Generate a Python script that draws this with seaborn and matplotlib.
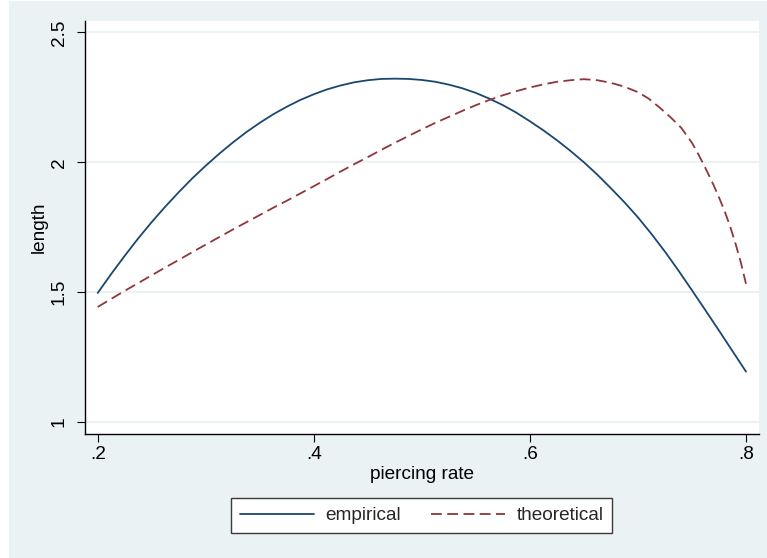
import numpy as np
import pandas as pd
import matplotlib
matplotlib.use("Agg")
import matplotlib.pyplot as plt
import seaborn as sns
from matplotlib.patches import Rectangle

# values
emp_x = [0.2000, 0.2125, 0.2250, 0.2375, 0.2500, 0.2625, 0.2750, 0.2875, 0.3000,
         0.3125, 0.3250, 0.3375, 0.3500, 0.3625, 0.3750, 0.3875, 0.4000, 0.4125,
         0.4250, 0.4375, 0.4500, 0.4625, 0.4750, 0.4875, 0.5000, 0.5125, 0.5250,
         0.5375, 0.5500, 0.5625, 0.5750, 0.5875, 0.6000, 0.6125, 0.6250, 0.6375,
         0.6500, 0.6625, 0.6750, 0.6875, 0.7000, 0.7125, 0.7250, 0.7375, 0.7500,
         0.7625, 0.7750, 0.7875, 0.8000]
emp_y = [1.497, 1.570, 1.640, 1.707, 1.770, 1.829, 1.885, 1.938, 1.987,
         2.033, 2.076, 2.116, 2.152, 2.185, 2.214, 2.240, 2.262, 2.281,
         2.296, 2.308, 2.316, 2.321, 2.322, 2.321, 2.317, 2.310, 2.299,
         2.285, 2.267, 2.245, 2.220, 2.191, 2.158, 2.123, 2.085, 2.044,
         2.000, 1.952, 1.900, 1.846, 1.788, 1.724, 1.656, 1.583, 1.507,
         1.430, 1.352, 1.273, 1.194]

theo_x = [0.2000, 0.2125, 0.2250, 0.2375, 0.2500, 0.2625, 0.2750, 0.2875, 0.3000,
          0.3125, 0.3250, 0.3375, 0.3500, 0.3625, 0.3750, 0.3875, 0.4000, 0.4125,
          0.4250, 0.4375, 0.4500, 0.4625, 0.4750, 0.4875, 0.5000, 0.5125, 0.5250,
          0.5375, 0.5500, 0.5625, 0.5750, 0.5875, 0.6000, 0.6125, 0.6250, 0.6375,
          0.6500, 0.6625, 0.6750, 0.6875, 0.7000, 0.7100, 0.7200, 0.7300, 0.7400,
          0.7500, 0.7550, 0.7600, 0.7650, 0.7700, 0.7750, 0.7800, 0.7850, 0.7900,
          0.7950, 0.8000]
theo_y = [1.443, 1.474, 1.505, 1.535, 1.565, 1.595, 1.624, 1.654, 1.683,
          1.712, 1.741, 1.769, 1.797, 1.825, 1.852, 1.880, 1.908, 1.936,
          1.965, 1.993, 2.020, 2.048, 2.075, 2.101, 2.127, 2.152, 2.175,
          2.198, 2.220, 2.240, 2.258, 2.274, 2.288, 2.300, 2.310, 2.316,
          2.320, 2.316, 2.306, 2.291, 2.270, 2.245, 2.211, 2.174, 2.133,
          2.075, 2.038, 1.998, 1.956, 1.912, 1.865, 1.814, 1.757, 1.691,
          1.618, 1.532]

x_ticks = [0.2, 0.4, 0.6, 0.8]
x_tick_labels = [".2", ".4", ".6", ".8"]
y_ticks = [1, 1.5, 2, 2.5]
y_tick_labels = ["1", "1.5", "2", "2.5"]

BG = "#EAF2F3"
NAVY = "#1A476F"
MAROON = "#90353B"
FS = 13.7

sns.set_style("white")
plt.rcParams["font.family"] = ["Liberation Sans", "DejaVu Sans"]

df_emp = pd.DataFrame({"rate": emp_x, "length": emp_y})
df_theo = pd.DataFrame({"rate": theo_x, "length": theo_y})

fig = plt.figure(figsize=(7.67, 5.58), dpi=100, facecolor="white")
fig.patches.append(Rectangle((9 / 767, 0), 1, 557 / 558, transform=fig.transFigure,
                             facecolor=BG, edgecolor="none", zorder=-10))
ax = fig.add_axes([85.3 / 767, 1 - 434 / 558, (758.7 - 85.3) / 767, (434 - 20.7) / 558])
ax.set_facecolor("white")

sns.lineplot(data=df_emp, x="rate", y="length", ax=ax, color=NAVY,
             linewidth=1.3, legend=False, label="empirical")
sns.lineplot(data=df_theo, x="rate", y="length", ax=ax, color=MAROON,
             linewidth=1.3, legend=False, label="theoretical")
ax.lines[1].set_dashes([6.0, 3.0])
for ln in ax.lines[:2]:
    ln.set_solid_joinstyle("round")
    ln.set_dash_joinstyle("round")

ax.set_xlim(0.18852, 0.81175)
ax.set_ylim(0.9538, 2.5452)
ax.set_xticks(x_ticks)
ax.set_xticklabels(x_tick_labels)
ax.set_yticks(y_ticks)
ax.set_yticklabels(y_tick_labels, rotation=90, va="center")

ax.yaxis.grid(True, color=BG, linewidth=1.5)
ax.xaxis.grid(False)
ax.set_axisbelow(True)

for side in ["top", "right"]:
    ax.spines[side].set_visible(False)
for side in ["left", "bottom"]:
    ax.spines[side].set_color("black")
    ax.spines[side].set_linewidth(1.0)

ax.tick_params(axis="both", which="major", direction="out", length=5.5,
               width=0.8, color="black", labelsize=FS, labelcolor="black",
               left=True, bottom=True)
ax.tick_params(axis="y", pad=7)
ax.tick_params(axis="x", pad=3)

ax.set_xlabel("piercing rate", fontsize=FS, color="black")
ax.set_ylabel("length", fontsize=FS, color="black")
ax.xaxis.set_label_coords(0.5, -0.0992)
ax.xaxis.label.set_va("center")
ax.yaxis.set_label_coords(-0.0688, 0.5)
ax.yaxis.label.set_va("center")

handles = ax.lines[:2]
leg = fig.legend(handles, ["empirical", "theoretical"], loc="center",
                 bbox_to_anchor=(421.7 / 767, 1 - 515.5 / 558), ncol=2,
                 fontsize=FS, frameon=True, fancybox=False, framealpha=1,
                 edgecolor="#3a3a3a", facecolor="white", handlelength=3.9,
                 handletextpad=0.6, columnspacing=1.6, borderpad=0.45)
leg.get_frame().set_linewidth(1.0)

fig.savefig("out.png", dpi=100, facecolor=fig.get_facecolor())
plt.close(fig)
